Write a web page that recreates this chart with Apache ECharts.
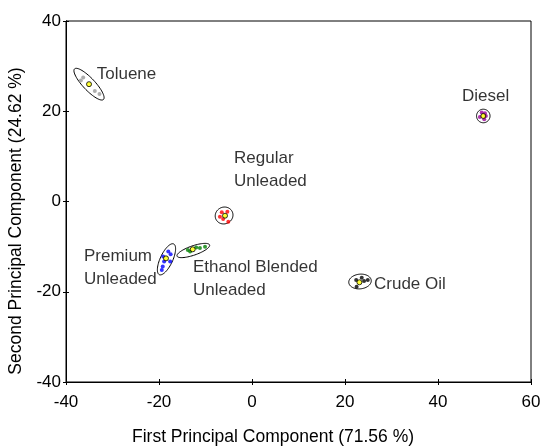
<!DOCTYPE html>
<html>
<head>
<meta charset="utf-8">
<script src="https://cdn.jsdelivr.net/npm/echarts@6/dist/echarts.min.js"></script>
<style>html,body{margin:0;padding:0;background:#fff}#c{width:546px;height:446px}</style>
</head>
<body>
<div id="c"></div>
<script>
// ---- data ----
var xTicks = [-40, -20, 0, 20, 40, 60];
var yTicks = [-40, -20, 0, 20, 40];
var xTitle = 'First Principal Component (71.56 %)';
var yTitle = 'Second Principal Component (24.62 %)';

var tolueneSamples = [[-36.3, 27.5], [-36.8, 26.8], [-33.8, 24.5], [-32.8, 23.8]];
var tolueneMean = [-35.05, 26.0];
var dieselSamples = [[49.4, 19.7], [50.1, 19.55], [49.0, 18.7], [49.95, 18.2], [50.3, 18.95]];
var dieselMean = [49.74, 18.95];
var regularSamples = [[-6.5, -2.4], [-5.3, -2.25], [-5.1, -4.5], [-6.9, -3.4], [-6.2, -3.9]];
var regularMean = [-5.8, -3.15];
var premiumSamples = [[-18.0, -11.1], [-17.5, -11.7], [-19.1, -12.2], [-18.9, -13.3], [-17.6, -13.3], [-19.2, -14.4], [-19.4, -15.2]];
var premiumMean = [-18.5, -12.6];
var ethanolSamples = [[-13.8, -10.75], [-13.3, -11.1], [-12.0, -10.2], [-10.1, -10.0], [-11.2, -10.3]];
var ethanolMean = [-12.75, -10.6];
var crudeSamples = [[22.4, -17.4], [24.1, -17.6], [24.9, -17.4], [22.5, -18.9], [23.6, -16.9]];
var crudeMean = [23.1, -17.9];

// confidence ellipses: [centerX, centerY, axis1X, axis1Y, axis2X, axis2Y] (data units)
var ellipses = [
  [-35.05, 26.0, 3.1, -3.4, 0.95, 0.9],
  [49.74, 18.95, 1.45, 0.0, 0.0, 1.5],
  [-6.0, -3.1, 1.9, 0.3, -0.2, 1.85],
  [-18.39, -12.81, 1.55, 3.4, 1.2, -0.6],
  [-12.62, -10.86, 3.5, 1.24, 0.33, -0.98],
  [23.23, -17.73, 2.4, 0.35, -0.3, 1.6]
];

var labelNames = ['Toluene', 'Diesel', 'Regular\nUnleaded', 'Premium\nUnleaded', 'Ethanol Blended\nUnleaded', 'Crude Oil'];
var labelPos = [[-33.4, 28.2], [45.16, 23.3], [-3.87, 7.1], [-36.13, -14.8], [-12.69, -17.1], [26.24, -18.4]];

var groupColors = ['#999999', '#990099', '#ff0000', '#0000ff', '#008000', '#000000'];
var groupSamples = [tolueneSamples, dieselSamples, regularSamples, premiumSamples, ethanolSamples, crudeSamples];
var groupMeans = [tolueneMean, dieselMean, regularMean, premiumMean, ethanolMean, crudeMean];

var FONT = 'Liberation Sans, Arial, sans-serif';
var chart = echarts.init(document.getElementById('c'), null, {renderer: 'canvas'});

var series = [];
series.push({
  type: 'custom',
  data: ellipses,
  encode: {x: 0, y: 1},
  z: 2,
  silent: true,
  renderItem: function (params, api) {
    var cx = api.value(0), cy = api.value(1), ax = api.value(2), ay = api.value(3), bx = api.value(4), by = api.value(5);
    var pts = [];
    for (var i = 0; i < 72; i++) {
      var t = i / 72 * Math.PI * 2;
      pts.push(api.coord([cx + Math.cos(t) * ax + Math.sin(t) * bx, cy + Math.cos(t) * ay + Math.sin(t) * by]));
    }
    return {type: 'polygon', shape: {points: pts}, style: {fill: null, stroke: '#000', lineWidth: 1}};
  }
});
groupSamples.forEach(function (s, i) {
  series.push({type: 'scatter', data: s, symbol: 'circle', symbolSize: 4, z: 3, silent: true,
    itemStyle: {color: groupColors[i], borderWidth: 0}});
});
series.push({type: 'scatter', data: groupMeans, symbol: 'circle', symbolSize: 5, z: 4, silent: true,
  itemStyle: {color: '#ffff00', borderColor: '#000', borderWidth: 1}});
series.push({
  type: 'scatter', symbolSize: 0, z: 5, silent: true,
  data: labelPos.map(function (p, i) { return {value: p, name: labelNames[i]}; }),
  label: {show: true, position: 'inside', align: 'left', verticalAlign: 'middle', formatter: function (p) { return p.name; },
    color: '#000', fontFamily: FONT, fontSize: 17, lineHeight: 23}
});

var axisCommon = {
  axisLine: {show: true, onZero: false, lineStyle: {color: '#000', width: 1}},
  splitLine: {show: false}
};

chart.setOption({
  animation: false,
  backgroundColor: '#fff',
  grid: {left: 66, right: 15, top: 21, bottom: 64, show: true, borderColor: '#000', borderWidth: 1, backgroundColor: 'transparent'},
  xAxis: [
    Object.assign({type: 'value', min: xTicks[0], max: xTicks[xTicks.length - 1], interval: 20,
      axisTick: {show: true, length: 3, lineStyle: {color: '#000'}},
      axisLabel: {color: '#000', fontFamily: FONT, fontSize: 17, margin: 12}}, axisCommon),
    Object.assign({type: 'value', position: 'bottom', min: xTicks[0], max: xTicks[xTicks.length - 1], interval: 20,
      axisTick: {show: true, inside: true, length: 3, lineStyle: {color: '#000'}},
      axisLabel: {show: false}}, axisCommon)
  ],
  yAxis: [
    Object.assign({type: 'value', min: yTicks[0], max: yTicks[yTicks.length - 1], interval: 20,
      axisTick: {show: true, length: 3, lineStyle: {color: '#000'}},
      axisLabel: {color: '#000', fontFamily: FONT, fontSize: 17, margin: 5}}, axisCommon),
    Object.assign({type: 'value', position: 'left', min: yTicks[0], max: yTicks[yTicks.length - 1], interval: 20,
      axisTick: {show: true, inside: true, length: 3, lineStyle: {color: '#000'}},
      axisLabel: {show: false}}, axisCommon)
  ],
  graphic: [
    {type: 'text', left: 'center', top: 428, style: {text: xTitle, fill: '#000', font: '17.5px ' + FONT}},
    {type: 'text', x: 16, y: 221, rotation: Math.PI / 2, originX: 0, originY: 0,
      style: {text: yTitle, fill: '#000', font: '17.5px ' + FONT, align: 'center', verticalAlign: 'middle'}}
  ],
  series: series
});
</script>
</body>
</html>
